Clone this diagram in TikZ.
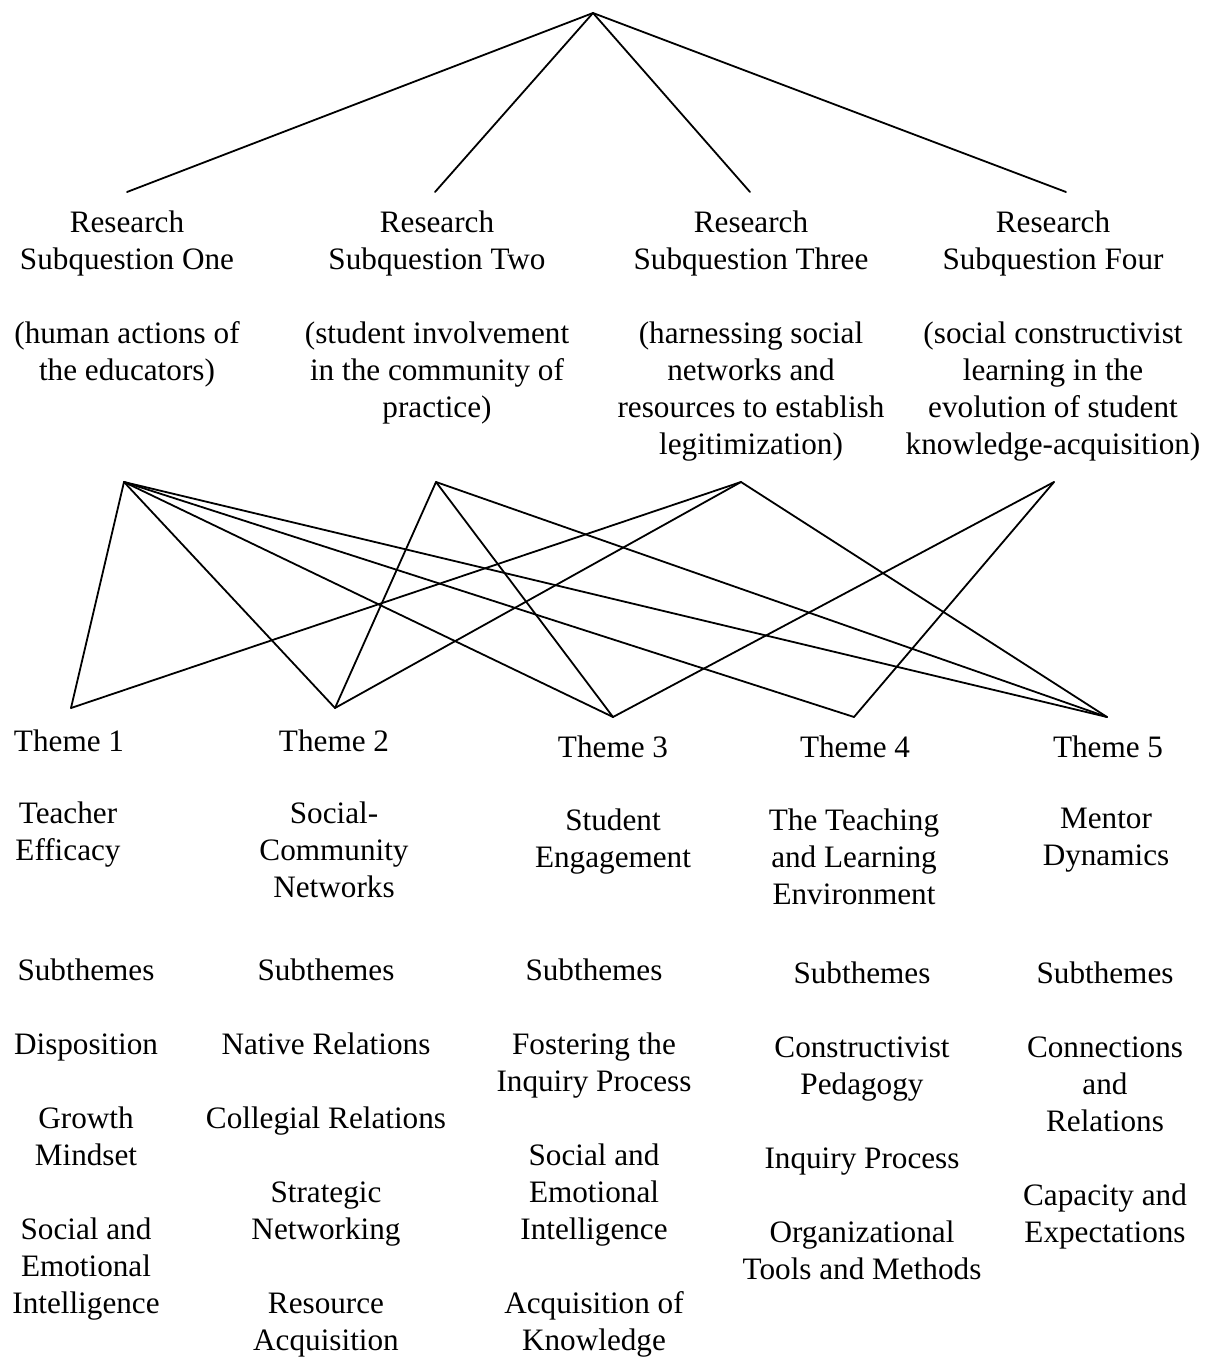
\documentclass[tikz,border=0pt]{standalone}
\usepackage{fontspec}
\setmainfont{Liberation Serif}
\begin{document}
\begin{tikzpicture}[x=0.5pt,y=-0.5pt,
  txt/.style={anchor=north, align=center, inner sep=0pt,
    font=\fontsize{15.6}{18.5}\selectfont, execute at begin node=\strut},
  link/.style={line width=0.9pt, line cap=round, line join=round}]
\useasboundingbox (0,0) rectangle (1208,1358);

% connection points
\coordinate (apex) at (593,13);
\coordinate (rt1) at (127,192);
\coordinate (rt2) at (435,192);
\coordinate (rt3) at (750,192);
\coordinate (rt4) at (1066,192);
\coordinate (rb1) at (124,482);
\coordinate (rb2) at (436,482);
\coordinate (rb3) at (741,482);
\coordinate (rb4) at (1054,482);
\coordinate (tp1) at (71,708);
\coordinate (tp2) at (335,708);
\coordinate (tp3) at (613,717);
\coordinate (tp4) at (854,717);
\coordinate (tp5) at (1107,717);

% research subquestions
\node[txt] (rq1) at (127,210) {Research\\Subquestion One\\[18.5pt](human actions of\\the educators)};
\node[txt] (rq2) at (437,210) {Research\\Subquestion Two\\[18.5pt](student involvement\\in the community of\\practice)};
\node[txt] (rq3) at (751,210) {Research\\Subquestion Three\\[18.5pt](harnessing social\\networks and\\resources to establish\\legitimization)};
\node[txt] (rq4) at (1053,210) {Research\\Subquestion Four\\[18.5pt](social constructivist\\learning in the\\evolution of student\\knowledge-acquisition)};

% themes
\node[txt] (t1) at (69,725) {Theme 1};
\node[txt] (n1) at (68,801) {Teacher\\Efficacy};
\node[txt] (s1) at (86,958) {Subthemes\\[18.5pt]Disposition\\[18.5pt]Growth\\Mindset\\[18.5pt]Social and\\Emotional\\Intelligence};

\node[txt] (t2) at (334,725) {Theme 2};
\node[txt] (n2) at (334,801) {Social-\\Community\\Networks};
\node[txt] (s2) at (326,958) {Subthemes\\[18.5pt]Native Relations\\[18.5pt]Collegial Relations\\[18.5pt]Strategic\\Networking\\[18.5pt]Resource\\Acquisition};

\node[txt] (t3) at (613,731) {Theme 3};
\node[txt] (n3) at (613,808) {Student\\Engagement};
\node[txt] (s3) at (594,958) {Subthemes\\[18.5pt]Fostering the\\Inquiry Process\\[18.5pt]Social and\\Emotional\\Intelligence\\[18.5pt]Acquisition of\\Knowledge};

\node[txt] (t4) at (855,731) {Theme 4};
\node[txt] (n4) at (854,808) {The Teaching\\and Learning\\Environment};
\node[txt] (s4) at (862,961) {Subthemes\\[18.5pt]Constructivist\\Pedagogy\\[18.5pt]Inquiry Process\\[18.5pt]Organizational\\Tools and Methods};

\node[txt] (t5) at (1108,731) {Theme 5};
\node[txt] (n5) at (1106,808) {Mentor\\Dynamics};
\node[txt] (s5) at (1105,961) {Subthemes\\[18.5pt]Connections\\and\\Relations\\[18.5pt]Capacity and\\Expectations};

% top fan
\draw[link] (rt1) -- (apex) -- (rt4);
\draw[link] (rt2) -- (apex) -- (rt3);

% subquestion-theme links
\foreach \t in {1,2,3,4,5} \draw[link] (rb1) -- (tp\t);
\foreach \t in {2,3,5} \draw[link] (rb2) -- (tp\t);
\foreach \t in {1,2,5} \draw[link] (rb3) -- (tp\t);
\foreach \t in {3,4} \draw[link] (rb4) -- (tp\t);
\end{tikzpicture}
\end{document}
